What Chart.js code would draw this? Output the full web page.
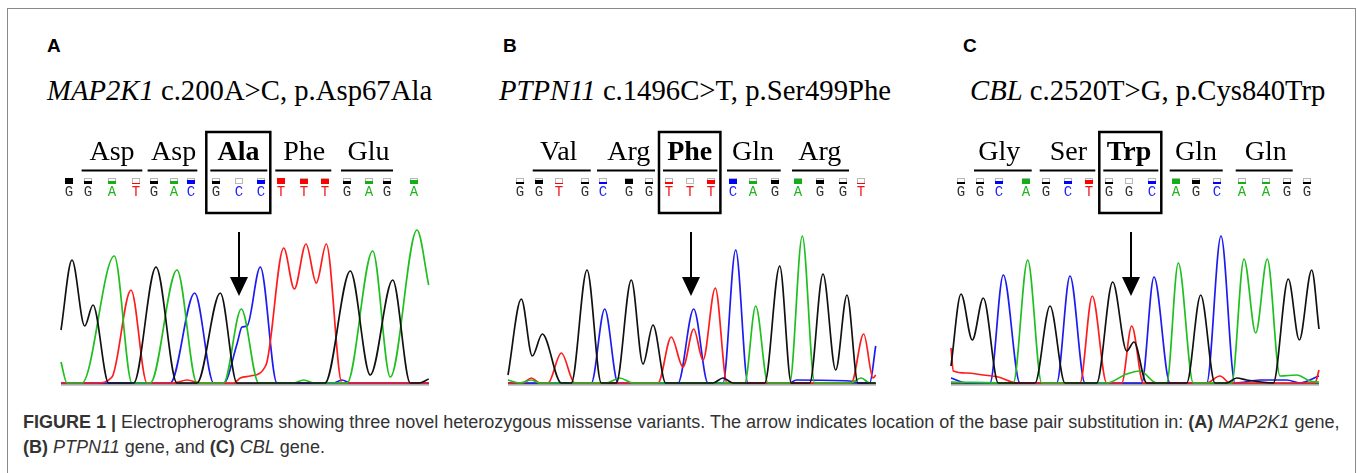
<!DOCTYPE html>
<html><head><meta charset="utf-8">
<script src="https://cdn.jsdelivr.net/npm/chart.js@4/dist/chart.umd.min.js"></script>
<style>
html,body{margin:0;padding:0;background:#fff;}
body{width:1357px;height:473px;position:relative;overflow:hidden;font-family:"Liberation Sans",Arial,sans-serif;}
#frame{position:absolute;left:7px;top:8px;width:1349px;height:520px;border:1.5px solid #8a8a8a;box-sizing:border-box;}
.plabel{position:absolute;top:36px;font:bold 19px/19px "Liberation Sans",Arial,sans-serif;color:#000;}
.title{position:absolute;top:76px;font:28.7px/28.7px "Liberation Serif","Times New Roman",serif;color:#000;white-space:nowrap;}
canvas.trace{position:absolute;top:125px;}
#caption{position:absolute;left:23px;top:410px;font:18px/25px "Liberation Sans",Arial,sans-serif;color:#333;white-space:nowrap;}
</style></head>
<body>
<div id="frame"></div>
<div class="plabel" style="left:47px">A</div>
<div class="plabel" style="left:503px">B</div>
<div class="plabel" style="left:963px">C</div>
<div class="title" style="left:47px"><i>MAP2K1</i> c.200A&gt;C, p.Asp67Ala</div>
<div class="title" style="left:499px"><i>PTPN11</i> c.1496C&gt;T, p.Ser499Phe</div>
<div class="title" style="left:970px"><i>CBL</i> c.2520T&gt;G, p.Cys840Trp</div>
<canvas id="cA" class="trace" width="380" height="265" style="left:54.7px"></canvas>
<canvas id="cB" class="trace" width="380" height="265" style="left:502.3px"></canvas>
<canvas id="cC" class="trace" width="380" height="265" style="left:945px"></canvas>
<div id="caption"><b>FIGURE 1 |</b> Electropherograms showing three novel heterozygous missense variants. The arrow indicates location of the base pair substitution in: <b>(A)</b> <i>MAP2K1</i> gene,<br><b>(B)</b> <i>PTPN11</i> gene, and <b>(C)</b> <i>CBL</i> gene.</div>
<script>
// ===== DATA (scan position, signal height) =====
// Panel A: MAP2K1
const panelA_G = [[0,53],[11,123],[23.7,57],[32,78],[47.7,0],[72.7,0],[95,116],[116,0],[136,0],[159.3,90],[176,0],[264,0],[289.3,112],[309.3,8],[331.7,103],[349.3,0],[357.7,0],[367.7,4]];
const panelA_A = [[0,21],[6,0],[21,0],[53.3,127],[71,0],[89.3,0],[116,113],[136,0],[162.7,0],[180.3,74],[197.7,0],[232.7,0],[242.7,3],[252.7,0],[286,0],[311.7,132],[329.3,6],[356,153],[367.7,98]];
const panelA_T = [[0,0],[36,0],[51,6],[70,93],[86,0],[112.7,0],[126,3],[139.3,0],[172.7,0],[179.3,5],[189.3,7],[205,18],[222.7,135],[233.3,94],[245,139],[255.3,100],[265.3,139],[281,0],[367.7,0]];
const panelA_C = [[0,0],[109.3,0],[133.7,90],[152.7,0],[162.7,0],[176,39],[181,56],[186,57],[199.3,116],[216,0],[272.7,0],[281,3],[289.3,0],[367.7,0]];
const panelA_calls = ['G','G','A','T','G','A','C','G','C','C','T','T','T','G','A','G','A'];
const panelA_callPos = [7.6,26.6,51,75.3,92.6,112.6,130.3,155.3,177.6,200.3,220.3,243.3,264.3,286,307.6,326,353.3];
const panelA_quality = [1,.5,.5,.15,.5,.5,.6,.5,0,.7,1,.8,.8,.5,.5,.5,.7];
const panelA_amino = ['Asp','Asp','Ala','Phe','Glu'];
const panelA_variant = 2;
const panelA_arrow = 178.3;

// Panel B: PTPN11
const panelB_G = [[0,8],[13.3,84],[24.3,27],[34.3,49],[53.3,0],[63.3,0],[79,113],[93.3,0],[108.3,0],[123.3,103],[135,19],[145,58],[157.7,0],[205,0],[215,5],[225,0],[256.7,0],[271.7,117],[283.3,0],[301.7,0],[315,109],[327.7,13],[339,88],[350,0],[367.7,0]];
const panelB_A = [[0,3],[11.7,0],[23.3,3],[31.7,0],[98.3,0],[111.7,5],[125,0],[236.7,0],[247.7,77],[260,0],[281.7,0],[294.3,147],[306.7,0],[341.7,0],[353.3,5],[361.7,0],[367.7,0]];
const panelB_T = [[0,0],[15,0],[23.3,5],[31.7,0],[40,0],[53.3,30],[66.7,0],[150,0],[163.3,46],[175,16],[185.7,54],[195,23],[207.3,95],[219,0],[343.3,0],[355.7,49],[365,5],[367.7,8]];
const panelB_C = [[0,0],[83.3,0],[96.7,74],[110,0],[170,0],[185.7,74],[200,0],[215,0],[227.7,133],[240,0],[281.7,0],[288.3,3],[341.7,2],[351.7,0],[361.7,0],[367.7,37]];
const panelB_calls = ['G','G','T','G','C','G','G','T','T','T','C','A','G','A','G','G','T'];
const panelB_callPos = [11.7,30.7,50.7,76.7,95,120.7,141,161,181.7,203.4,225,245,266.7,290,311.7,335,353.4];
const panelB_quality = [.3,.6,.2,.4,.3,.8,.4,.4,0,.6,.8,.5,.7,.8,.7,.3,.2];
const panelB_amino = ['Val','Arg','Phe','Gln','Arg'];
const panelB_variant = 2;
const panelB_arrow = 183.3;

// Panel C: CBL
const panelC_G = [[0,17],[10,89],[21.3,43],[32.3,85],[47.3,0],[84,0],[99,77],[114,0],[145.7,0],[161.7,101],[175.7,32],[183,41],[195.7,0],[235.7,0],[249.7,88],[264,0],[275.7,0],[285.7,5],[295.7,3],[322.3,0],[337.3,104],[348.3,43],[360.7,113],[368,54]];
const panelC_A = [[0,1],[62.3,0],[76.7,123],[90.7,0],[155.7,0],[175.7,9],[189,12],[205.7,0],[215.7,0],[227.3,120],[242.3,0],[280.7,0],[293,124],[304.7,50],[316.3,124],[329,7],[345.7,8],[359,2],[368,1]];
const panelC_T = [[0,35],[2.3,12],[15.7,10],[32.3,8],[47.3,6],[65.7,0],[129,0],[141.3,87],[155.7,0],[170.7,0],[180.7,57],[192.3,0],[255.7,0],[269,7],[279,0],[364,0],[368,13]];
const panelC_C = [[0,5],[15.7,0],[39,0],[52.3,108],[69,0],[105.7,0],[119,107],[134,0],[190.7,0],[203,106],[219,0],[255.7,0],[270,147],[284,0],[309,3],[335.7,3],[349,0],[368,7]];
const panelC_calls = ['G','G','C','A','G','C','T','G','G','C','A','G','C','A','A','G','G'];
const panelC_callPos = [9.7,29,48.3,74.7,94.7,117.3,138.3,158.3,178,201.3,224.7,245,265.7,290.7,314.7,335.7,355.7];
const panelC_quality = [.3,.4,.5,.8,.4,.5,.7,.4,0,.5,.8,.6,.4,.3,.3,.3,.3];
const panelC_amino = ['Gly','Ser','Trp','Gln','Gln'];
const panelC_variant = 2;
const panelC_arrow = 180;

const codonStart = 1;

// ===== STYLE =====
const traceColors = {G:'#111111', A:'#1fbf1f', T:'#ff1c1c', C:'#1c1cf0'};
const barColors = {G:'#000000', A:'#12b012', T:'#ff0000', C:'#0000ff'};
const letterColors = {G:'#333333', A:'#22b422', T:'#ee1515', C:'#2020ff'};
const L = { aminoBase:35, underline:45.5, barTop:53, barH:6, barW:8, letterBase:71,
            boxTop:7, boxBottom:88, arrowTop:107, arrowHead:152, arrowTip:171 };

const headerPlugin = {
  id:'header',
  beforeDatasetsDraw(chart){
    const ctx=chart.ctx, a=chart.chartArea;
    ctx.save();
    ctx.strokeStyle='#c8c8c8'; ctx.lineWidth=1;
    ctx.beginPath(); ctx.moveTo(a.left,a.bottom+2.5); ctx.lineTo(a.right,a.bottom+2.5); ctx.stroke();
    ctx.strokeStyle='#555'; ctx.lineWidth=2;
    ctx.beginPath(); ctx.moveTo(a.left,a.bottom+0.5); ctx.lineTo(a.right,a.bottom+0.5); ctx.stroke();
    ctx.restore();
  },
  afterDatasetsDraw(chart, args, o){
    const ctx=chart.ctx, xs=chart.scales.x;
    const px = i => xs.getPixelForValue(o.callPos[i]);
    ctx.save();
    // arrow
    const ax = Math.round(xs.getPixelForValue(o.arrow));
    ctx.strokeStyle='#000'; ctx.fillStyle='#000'; ctx.lineWidth=2;
    ctx.beginPath(); ctx.moveTo(ax,L.arrowTop); ctx.lineTo(ax,L.arrowHead+2); ctx.stroke();
    ctx.beginPath(); ctx.moveTo(ax-9,L.arrowHead); ctx.lineTo(ax+9,L.arrowHead); ctx.lineTo(ax,L.arrowTip); ctx.closePath(); ctx.fill();
    // base calls
    ctx.font='14px "Liberation Mono","Courier New",monospace';
    ctx.textAlign='center'; ctx.textBaseline='alphabetic';
    o.calls.forEach((b,i)=>{
      const x=Math.round(px(i));
      ctx.strokeStyle='#b8b8b8'; ctx.lineWidth=1;
      ctx.strokeRect(x-L.barW/2+0.5, L.barTop+0.5, L.barW-1, L.barH-1);
      const h=Math.round(o.quality[i]*L.barH);
      if(h>0){ ctx.fillStyle=barColors[b]; ctx.fillRect(x-L.barW/2, L.barTop+L.barH-h, L.barW, h); }
      ctx.fillStyle=letterColors[b];
      ctx.fillText(b, x, L.letterBase);
    });
    // amino acids
    o.amino.forEach((aa,k)=>{
      const i0=codonStart+k*3, i2=i0+2;
      const x0=px(i0), x1=px(i0+1), x2=px(i2);
      ctx.fillStyle='#000';
      ctx.font=(k===o.variant?'bold ':'')+'28px "Liberation Serif","Times New Roman",serif';
      ctx.fillText(aa, x1, L.aminoBase);
      ctx.strokeStyle='#000'; ctx.lineWidth=2;
      ctx.beginPath(); ctx.moveTo(x0-6,L.underline); ctx.lineTo(x2+6,L.underline); ctx.stroke();
      if(k===o.variant){
        ctx.lineWidth=2.5;
        ctx.strokeRect(x0-10, L.boxTop, (x2+9)-(x0-10), L.boxBottom-L.boxTop);
      }
    });
    ctx.restore();
  }
};

function makePanel(id, G, A, T, C, calls, callPos, quality, amino, variant, arrow){
  const ds = (arr, base) => ({
    data: arr.map(p=>({x:p[0], y:p[1]})),
    borderColor: traceColors[base], borderWidth: 1.7,
    pointRadius: 0, fill: false, cubicInterpolationMode: 'monotone', clip: 3
  });
  new Chart(document.getElementById(id), {
    type:'line',
    data:{ datasets:[ ds(G,'G'), ds(A,'A'), ds(T,'T'), ds(C,'C') ] },
    options:{
      responsive:false, animation:false, devicePixelRatio:1,
      layout:{ padding:{ left:6, right:6, top:98, bottom:7 } },
      scales:{
        x:{ type:'linear', min:0, max:368, display:false },
        y:{ type:'linear', min:0, max:160, display:false }
      },
      plugins:{ legend:{display:false}, tooltip:{enabled:false},
        header:{ calls, callPos, quality, amino, variant, arrow } }
    },
    plugins:[headerPlugin]
  });
}
makePanel('cA', panelA_G, panelA_A, panelA_T, panelA_C, panelA_calls, panelA_callPos, panelA_quality, panelA_amino, panelA_variant, panelA_arrow);
makePanel('cB', panelB_G, panelB_A, panelB_T, panelB_C, panelB_calls, panelB_callPos, panelB_quality, panelB_amino, panelB_variant, panelB_arrow);
makePanel('cC', panelC_G, panelC_A, panelC_T, panelC_C, panelC_calls, panelC_callPos, panelC_quality, panelC_amino, panelC_variant, panelC_arrow);
</script>
</body></html>
